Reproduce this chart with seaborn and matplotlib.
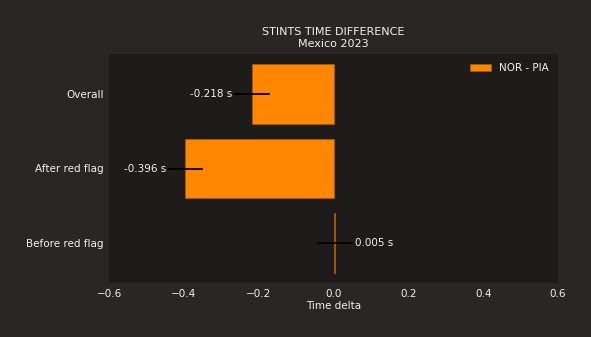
import matplotlib
matplotlib.use("Agg")
import matplotlib.pyplot as plt
import seaborn as sns
import pandas as pd

# Stint comparison data (seconds)
categories = ["Overall", "After red flag", "Before red flag"]
deltas = [-0.218, -0.396, 0.005]
spreads = [0.049, 0.048, 0.048]
series_label = "NOR - PIA"
title_text = "STINTS TIME DIFFERENCE\nMexico 2023"
x_ticks = [-0.6, -0.4, -0.2, 0.0, 0.2, 0.4, 0.6]

fig_bg = "#292625"
ax_bg = "#1e1c1b"
text_col = "#F1F1F3"
bar_col = "#FF8700"
fs = 7.5

sns.set_theme(style="dark")
plt.rcParams.update({
    "font.family": ["DejaVu Sans"],
    "font.size": fs,
    "figure.facecolor": fig_bg,
    "axes.facecolor": ax_bg,
    "text.color": text_col,
    "axes.labelcolor": text_col,
    "xtick.color": text_col,
    "ytick.color": text_col,
    "axes.grid": False,
})

df = pd.DataFrame({"stint": categories, "delta": deltas, "spread": spreads})

fig = plt.figure(figsize=(5.91, 3.37), dpi=100)
ax = fig.add_axes([109 / 591, 1 - 283 / 337, (558 - 109) / 591, (283 - 54) / 337])

sns.barplot(data=df, x="delta", y="stint", orient="h", color=bar_col,
            saturation=1, errorbar=None, width=0.8, label=series_label,
            edgecolor="#a85800", linewidth=0.6, ax=ax)

ypos = list(range(len(categories)))
ax.errorbar(df["delta"], ypos, xerr=df["spread"], fmt="none",
            ecolor="black", elinewidth=1.3, capsize=0, zorder=3)

for y, v, s in zip(ypos, df["delta"], df["spread"]):
    end = v - s if v < 0 else v + s
    ax.annotate(f"{v:.3f} s", xy=(end, y), xytext=(-1 if v < 0 else 1, 0),
                textcoords="offset points", ha="right" if v < 0 else "left",
                va="center", color=text_col, fontsize=fs, zorder=4)

ax.set_xlim(-0.6, 0.6)
ax.set_xticks(x_ticks)
ax.set_xlabel("Time delta", fontsize=fs, labelpad=2)
ax.set_ylabel("")
ax.set_title(title_text, fontsize=8, color=text_col, pad=5, linespacing=1.25)
ax.tick_params(axis="both", length=2, width=0.6, pad=2, labelsize=fs,
               color="#9a9a9a")
for sp in ax.spines.values():
    sp.set_visible(False)

leg = ax.legend(loc="upper right", frameon=True, fontsize=fs)
leg.get_frame().set_facecolor(ax_bg)
leg.get_frame().set_edgecolor(ax_bg)
for t in leg.get_texts():
    t.set_color(text_col)

fig.savefig("out.png", dpi=100, facecolor=fig_bg)
